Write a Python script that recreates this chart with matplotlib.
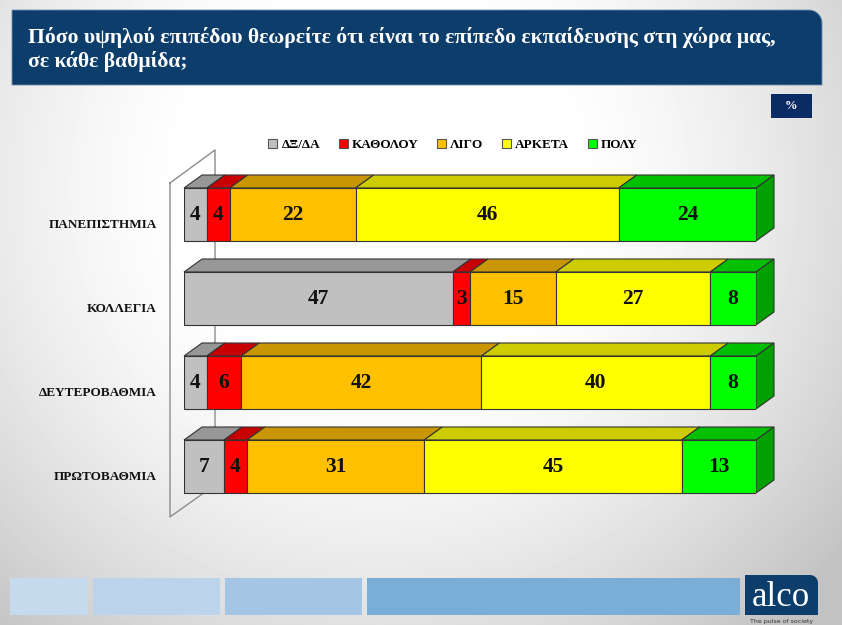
import numpy as np
import matplotlib
matplotlib.use("Agg")
import matplotlib.pyplot as plt
from matplotlib.patches import Polygon, Rectangle, Patch

# data
categories = ["ΠΑΝΕΠΙΣΤΗΜΙΑ", "ΚΟΛΛΕΓΙΑ", "ΔΕΥΤΕΡΟΒΑΘΜΙΑ", "ΠΡΩΤΟΒΑΘΜΙΑ"]
answers = ["ΔΞ/ΔΑ", "ΚΑΘΟΛΟΥ", "ΛΙΓΟ", "ΑΡΚΕΤΑ", "ΠΟΛΥ"]
dk_na = [4, 47, 4, 7]
not_at_all = [4, 3, 6, 4]
little = [22, 15, 42, 31]
enough = [46, 27, 40, 45]
much = [24, 8, 8, 13]
series = [dk_na, not_at_all, little, enough, much]

title = "Πόσο υψηλού επιπέδου θεωρείτε ότι είναι το επίπεδο εκπαίδευσης στη χώρα μας,\nσε κάθε βαθμίδα;"

front = ["#c0c0c0", "#ff0000", "#ffc000", "#ffff00", "#00ff00"]
top = ["#979797", "#c80000", "#c89600", "#cccc00", "#00c000"]
side = ["#8a8a8a", "#b00000", "#b08400", "#b4b400", "#00a000"]
navy = "#0c3d6b"
serif = ["Liberation Serif", "DejaVu Serif"]

W, H = 842, 625
fig = plt.figure(figsize=(W / 100, H / 100), dpi=100)

# background in pixel coordinates
bg = fig.add_axes([0, 0, 1, 1])
bg.set_xlim(0, W)
bg.set_ylim(H, 0)
bg.axis("off")
yy, xx = np.mgrid[0:H, 0:W]
r = np.sqrt(((xx - W * 0.45) / (W * 0.6)) ** 2 + ((yy - H * 0.3) / (H * 0.8)) ** 2)
shade = np.clip(1.0 - 0.2 * np.clip(r - 0.35, 0, None) ** 1.5 * 1.6, 0.76, 1.0)
bg.imshow(shade, cmap="gray", vmin=0, vmax=1, extent=[0, W, H, 0], aspect="auto", zorder=0)

# title box with rounded top-right corner
rad = 13
t = np.linspace(0, np.pi / 2, 20)
arc = [(822 - rad + rad * np.sin(a), 10 + rad - rad * np.cos(a)) for a in t]
bg.add_patch(Polygon([(12, 10)] + arc + [(822, 85), (12, 85)], closed=True,
                     facecolor=navy, edgecolor="#6d8fb0", lw=0.6, zorder=2))
bg.text(28, 49.5, title, color="white", fontsize=15.6, fontweight="bold", family=serif,
        va="center", ha="left", linespacing=1.25, zorder=3)

# % box
bg.add_patch(Rectangle((771, 94), 41, 24, facecolor="#0b2b64", edgecolor="none", zorder=2))
bg.text(791.5, 106, "%", color="white", fontsize=9, fontweight="bold", family=serif,
        ha="center", va="center", zorder=3)

# footer
for x0, x1, c in [(10, 88, "#c6daee"), (93, 220, "#bcd4eb"), (225, 362, "#a4c6e4"), (367, 740, "#7aaed7")]:
    bg.add_patch(Rectangle((x0, 578), x1 - x0, 37, facecolor=c, edgecolor="none", zorder=2))
rad = 8
t = np.linspace(0, np.pi / 2, 15)
arc = [(818 - rad + rad * np.sin(a), 575 + rad - rad * np.cos(a)) for a in t]
bg.add_patch(Polygon([(745, 575)] + arc + [(818, 615), (745, 615)], closed=True,
                     facecolor=navy, edgecolor="none", zorder=2))
bg.text(781, 597, "alco", color="white", fontsize=25, family=serif, ha="center", va="center", zorder=3)
bg.text(782, 621, "The pulse of society", color="#333333", fontsize=4.5, ha="center", va="center", zorder=3)

# chart axes: x 0..100 -> px 184..756, rows 84 px apart
ax = fig.add_axes([184 / W, 1 - 508.5 / H, (756 - 184) / W, 336 / H])
ax.set_xlim(0, 100)
ax.set_ylim(3.5, -0.5)
ax.axis("off")
ax.patch.set_alpha(0)

px_x = 100 / 572.0
px_y = 4 / 336.0
dx = 18 * px_x
dy = 13 * px_y
h = 53 * px_y
ypos = np.arange(len(categories))

# back wall
wall_x = [-14 * px_x, 31 * px_x]
wall = [(wall_x[0], -0.375), (wall_x[1], -0.768), (wall_x[1], 3.22), (wall_x[0], 3.60), (wall_x[0], -0.375)]
ax.plot([p[0] for p in wall], [p[1] for p in wall], color="#8c8c8c", lw=1, clip_on=False, zorder=1)

edge = "#333333"
left = np.zeros(len(categories))
for i, vals in enumerate(series):
    vals = np.array(vals, dtype=float)
    ax.barh(ypos, vals, left=left, height=h, color=front[i], edgecolor=edge, lw=0.8, zorder=3)
    for j in range(len(categories)):
        x0, x1 = left[j], left[j] + vals[j]
        yt = ypos[j] - h / 2
        ax.add_patch(Polygon([(x0, yt), (x1, yt), (x1 + dx, yt - dy), (x0 + dx, yt - dy)], closed=True,
                             facecolor=top[i], edgecolor=edge, lw=0.8, zorder=2, clip_on=False))
        if i == len(series) - 1:
            ax.add_patch(Polygon([(x1, yt), (x1 + dx, yt - dy), (x1 + dx, yt + h - dy), (x1, yt + h)], closed=True,
                                 facecolor=side[i], edgecolor=edge, lw=0.8, zorder=2, clip_on=False))
        ax.text((x0 + x1) / 2, ypos[j] + 1 * px_y, f"{int(vals[j])}", ha="center", va="center", fontsize=15.5,
                fontweight="bold", family=serif, color="#111111", zorder=4)
    left += vals

for j, name in enumerate(categories):
    ax.text(-27 * px_x, ypos[j] + 11 * px_y, name, ha="right", va="center", fontsize=9.5,
            fontweight="bold", family=serif, color="#111111", clip_on=False)

handles = [Patch(facecolor=front[i], edgecolor="#555555", lw=0.8) for i in range(len(answers))]
fig.legend(handles, answers, loc="center", bbox_to_anchor=(453 / W, 1 - 145 / H), ncol=5, frameon=False,
           prop={"family": serif, "weight": "bold", "size": 9.5}, handlelength=0.7, handleheight=0.7,
           handletextpad=0.3, columnspacing=1.4)

fig.savefig("out.png", dpi=100)
